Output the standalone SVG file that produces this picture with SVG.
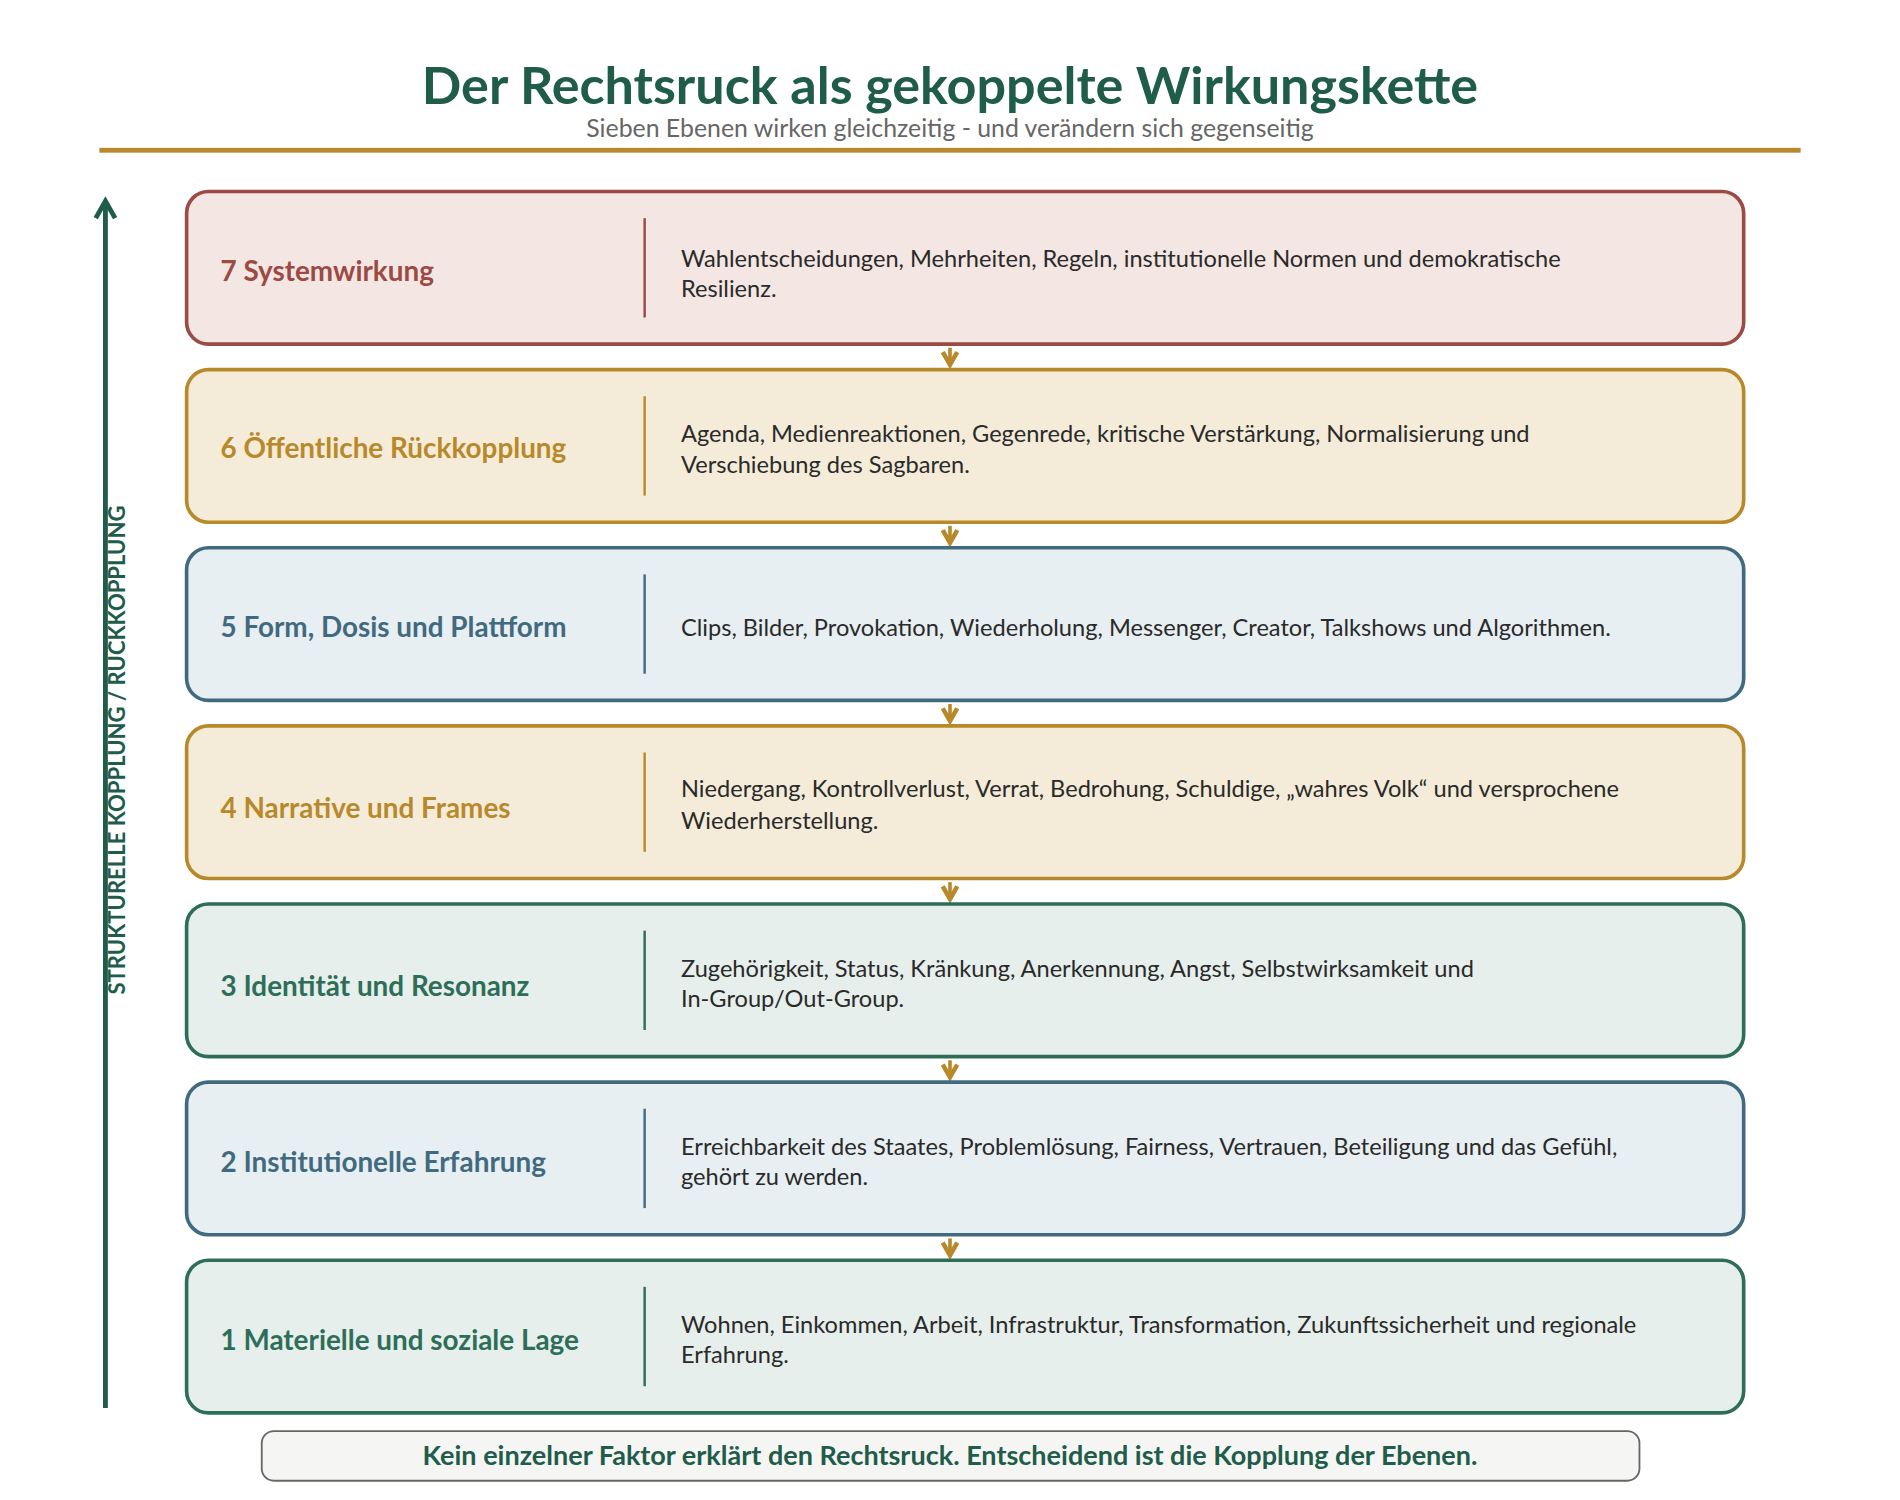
<svg xmlns="http://www.w3.org/2000/svg" width="1900" height="1500" viewBox="0 0 1900 1500">
<style>
text{font-family:Lato,"Liberation Sans",sans-serif}
.t{font-size:23px;font-weight:bold}
.d{font-size:19.5px;fill:#2a2a2a}
.box{stroke-width:3}
.red .box{fill:#f4e6e3;stroke:#9b4a44}.red .t{fill:#9b4a44}.red line{stroke:#9b4a44}
.gold .box{fill:#f4ecd8;stroke:#b8892a}.gold .t{fill:#b8892a}.gold line{stroke:#b8892a}
.blue .box{fill:#e7eff2;stroke:#426a7f}.blue .t{fill:#426a7f}.blue line{stroke:#426a7f}
.green .box{fill:#e6efeb;stroke:#2e6e58}.green .t{fill:#2e6e58}.green line{stroke:#2e6e58}
line.div{stroke-width:2}
.con path{stroke:#b8892a;stroke-width:3;fill:none}
</style>
<defs>
<marker id="ah" viewBox="0 0 10 10" refX="8" refY="5" markerWidth="5" markerHeight="5" orient="auto"><path d="M1,1 L8,5 L1,9" fill="none" stroke="#b8892a" stroke-width="2.5"/></marker>
<marker id="ag" viewBox="0 0 10 10" refX="8" refY="5" markerWidth="5" markerHeight="5" orient="auto"><path d="M1,1 L8,5 L1,9" fill="none" stroke="#1f5c4a" stroke-width="2"/></marker>
</defs>
<rect width="1900" height="1500" fill="#fff"/>
<g transform="scale(1.21173)">
<g id="header">
<text x="784" y="86" text-anchor="middle" font-size="43" font-weight="bold" fill="#1f5c4a">Der Rechtsruck als gekoppelte Wirkungskette</text>
<text x="784" y="113" text-anchor="middle" font-size="20.5" fill="#666">Sieben Ebenen wirken gleichzeitig - und verändern sich gegenseitig</text>
<rect x="82" y="122" width="1404" height="4" fill="#b8892a"/>
</g>
<g id="axis">
<line x1="87" y1="1162" x2="87" y2="166" stroke="#1f5c4a" stroke-width="4" marker-end="url(#ag)"/>
<text transform="translate(103,619) rotate(-90)" text-anchor="middle" font-size="18.2" font-weight="bold" fill="#1f5c4a">STRUKTURELLE KOPPLUNG / RÜCKKOPPLUNG</text>
</g>
<g id="connectors" class="con">
<path d="M784,287 V301" marker-end="url(#ah)"/>
<path d="M784,434 V448" marker-end="url(#ah)"/>
<path d="M784,581 V595" marker-end="url(#ah)"/>
<path d="M784,728 V742" marker-end="url(#ah)"/>
<path d="M784,875 V889" marker-end="url(#ah)"/>
<path d="M784,1022 V1036" marker-end="url(#ah)"/>
</g>
<g id="n7" class="red"><rect class="box" x="154" y="158" width="1285" height="126" rx="18"/><line class="div" x1="532" y1="180" x2="532" y2="262"/><text class="t" x="182" y="232">7 Systemwirkung</text><text class="d" x="562" y="220">Wahlentscheidungen, Mehrheiten, Regeln, institutionelle Normen und demokratische</text><text class="d" x="562" y="245">Resilienz.</text></g>
<g id="n6" class="gold"><rect class="box" x="154" y="305" width="1285" height="126" rx="18"/><line class="div" x1="532" y1="327" x2="532" y2="409"/><text class="t" x="182" y="378">6 Öffentliche Rückkopplung</text><text class="d" x="562" y="365">Agenda, Medienreaktionen, Gegenrede, kritische Verstärkung, Normalisierung und</text><text class="d" x="562" y="390">Verschiebung des Sagbaren.</text></g>
<g id="n5" class="blue"><rect class="box" x="154" y="452" width="1285" height="126" rx="18"/><line class="div" x1="532" y1="474" x2="532" y2="556"/><text class="t" x="182" y="526">5 Form, Dosis und Plattform</text><text class="d" x="562" y="525">Clips, Bilder, Provokation, Wiederholung, Messenger, Creator, Talkshows und Algorithmen.</text></g>
<g id="n4" class="gold"><rect class="box" x="154" y="599" width="1285" height="126" rx="18"/><line class="div" x1="532" y1="621" x2="532" y2="703"/><text class="t" x="182" y="675">4 Narrative und Frames</text><text class="d" x="562" y="658">Niedergang, Kontrollverlust, Verrat, Bedrohung, Schuldige, „wahres Volk“ und versprochene</text><text class="d" x="562" y="684">Wiederherstellung.</text></g>
<g id="n3" class="green"><rect class="box" x="154" y="746" width="1285" height="126" rx="18"/><line class="div" x1="532" y1="768" x2="532" y2="850"/><text class="t" x="182" y="822">3 Identität und Resonanz</text><text class="d" x="562" y="806">Zugehörigkeit, Status, Kränkung, Anerkennung, Angst, Selbstwirksamkeit und</text><text class="d" x="562" y="831">In-Group/Out-Group.</text></g>
<g id="n2" class="blue"><rect class="box" x="154" y="893" width="1285" height="126" rx="18"/><line class="div" x1="532" y1="915" x2="532" y2="997"/><text class="t" x="182" y="967">2 Institutionelle Erfahrung</text><text class="d" x="562" y="953">Erreichbarkeit des Staates, Problemlösung, Fairness, Vertrauen, Beteiligung und das Gefühl,</text><text class="d" x="562" y="978">gehört zu werden.</text></g>
<g id="n1" class="green"><rect class="box" x="154" y="1040" width="1285" height="126" rx="18"/><line class="div" x1="532" y1="1062" x2="532" y2="1144"/><text class="t" x="182" y="1114">1 Materielle und soziale Lage</text><text class="d" x="562" y="1100">Wohnen, Einkommen, Arbeit, Infrastruktur, Transformation, Zukunftssicherheit und regionale</text><text class="d" x="562" y="1125">Erfahrung.</text></g>
<g id="footer"><rect x="216" y="1181" width="1137" height="41" rx="10" fill="#f5f6f4" stroke="#666" stroke-width="1.5"/><text x="784" y="1209" text-anchor="middle" font-size="22.3" font-weight="bold" fill="#1f5c4a">Kein einzelner Faktor erklärt den Rechtsruck. Entscheidend ist die Kopplung der Ebenen.</text></g>
</g>
</svg>
